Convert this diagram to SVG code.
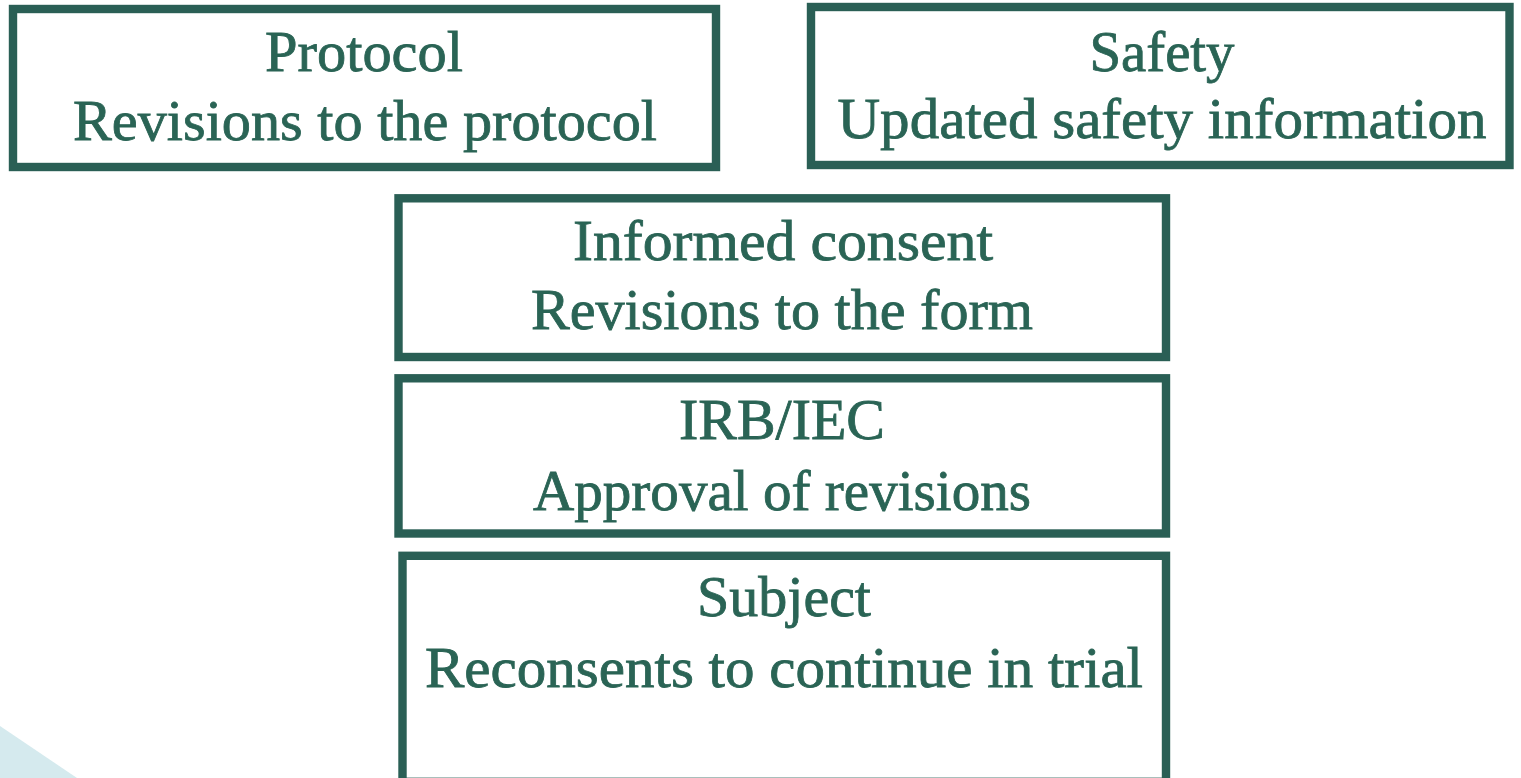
<svg xmlns="http://www.w3.org/2000/svg" width="1521" height="778" viewBox="0 0 1521 778">
<style>
.box{fill:#ffffff;stroke:#2a5f55;stroke-width:8.4}
.t{font-family:"Liberation Serif","Times New Roman",serif;font-size:56px;fill:#2a6455;stroke:#2a6455;stroke-width:0.8;text-anchor:middle}
</style>
<rect x="0" y="0" width="1521" height="778" fill="#ffffff"/>
<polygon points="0,726 77,778 0,778" fill="#d5eaee"/>
<g id="connectors"></g>
<g id="protocol">
<rect class="box" x="13" y="9" width="703" height="158"/>
<text class="t" x="364" y="71" textLength="198" lengthAdjust="spacingAndGlyphs">Protocol</text>
<text class="t" x="365" y="140" textLength="584" lengthAdjust="spacingAndGlyphs">Revisions to the protocol</text>
</g>
<g id="safety">
<rect class="box" x="811" y="7" width="698.5" height="158"/>
<text class="t" x="1162" y="71" textLength="145" lengthAdjust="spacingAndGlyphs">Safety</text>
<text class="t" x="1162" y="138" textLength="649" lengthAdjust="spacingAndGlyphs">Updated safety information</text>
</g>
<g id="informed-consent">
<rect class="box" x="398.5" y="198.3" width="767.5" height="158.7"/>
<text class="t" x="783" y="260" textLength="420" lengthAdjust="spacingAndGlyphs">Informed consent</text>
<text class="t" x="782" y="329" textLength="502" lengthAdjust="spacingAndGlyphs">Revisions to the form</text>
</g>
<g id="irb-iec">
<rect class="box" x="398.5" y="378.3" width="767.5" height="155.2"/>
<text class="t" x="782" y="439" textLength="206" lengthAdjust="spacingAndGlyphs">IRB/IEC</text>
<text class="t" x="782" y="510" textLength="498" lengthAdjust="spacingAndGlyphs">Approval of revisions</text>
</g>
<g id="subject">
<rect class="box" x="402.5" y="555.8" width="763.5" height="226"/>
<text class="t" x="784" y="616" textLength="174" lengthAdjust="spacingAndGlyphs">Subject</text>
<text class="t" x="784" y="687" textLength="718" lengthAdjust="spacingAndGlyphs">Reconsents to continue in trial</text>
</g>
</svg>
